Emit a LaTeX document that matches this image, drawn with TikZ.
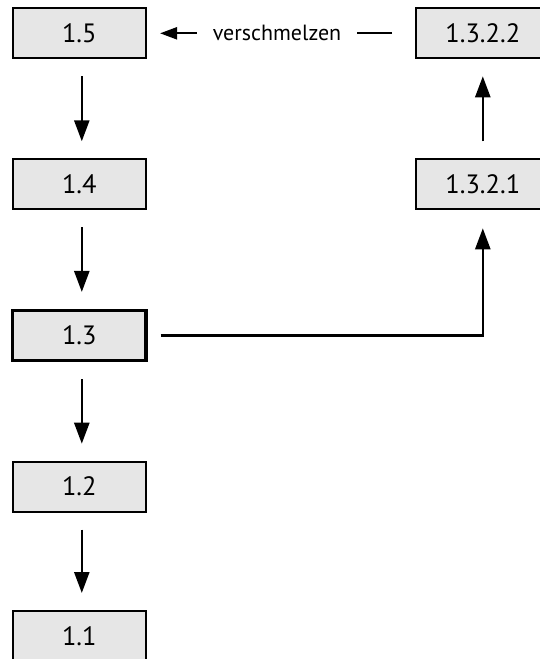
\documentclass[tikz,border=0pt]{standalone}
\usepackage{fontspec}
\setmainfont{PT Sans}
\usetikzlibrary{arrows.meta}
\definecolor{boxgray}{HTML}{E6E6E6}
\begin{document}
\begin{tikzpicture}[x=1pt, y=-1pt,
  stage/.style={draw=black, fill=boxgray, line width=2pt,
    minimum width=133.5pt, minimum height=50pt, inner sep=0pt,
    font=\fontsize{26.5}{30}\selectfont},
  current/.style={stage, line width=3.3pt},
  flow/.style={line width=2.5pt, -{Triangle[length=21pt,width=15pt]},
    shorten <=17pt, shorten >=17pt},
  merge/.style={line width=2.2pt, -{Triangle[length=17pt,width=12pt]}},
  tag/.style={fill=white, inner xsep=16pt, inner ysep=2pt,
    font=\fontsize{22}{26}\selectfont}
]
\useasboundingbox (0,0) rectangle (539,659);

% version chain on the left
\node[stage]   (n15) at (79.3,33.3)  {1.5};
\node[stage]   (n14) at (79.3,184.3) {1.4};
\node[current] (n13) at (79.3,335.6) {1.3};
\node[stage]   (n12) at (79.3,486.7) {1.2};
\node[stage]   (n11) at (79.3,636)   {1.1};

% branch on the right
\node[stage] (n1321) at (482.8,184.3) {1.3.2.1};
\node[stage] (n1322) at (482.8,33.3)  {1.3.2.2};

% arrows down the main line
\draw[flow] ([xshift=2.5pt]n15.south) -- ([xshift=2.5pt]n14.north);
\draw[flow] ([xshift=2.5pt]n14.south) -- ([xshift=2.5pt]n13.north);
\draw[flow] ([xshift=2.5pt]n13.south) -- ([xshift=2.5pt]n12.north);
\draw[flow] ([xshift=2.5pt]n12.south) -- ([xshift=2.5pt]n11.north);

% branch off 1.3 and up the branch
\draw[flow, shorten <=13pt, shorten >=18pt] (n13.east) -| (n1321.south);
\draw[flow] (n1321.north) -- (n1322.south);

% merge back into the main line
\draw[merge, shorten <=23pt, shorten >=13pt]
  (n1322.west) -- node[tag, pos=0.515] (lbl) {verschmelzen} (n15.east);
\end{tikzpicture}
\end{document}
